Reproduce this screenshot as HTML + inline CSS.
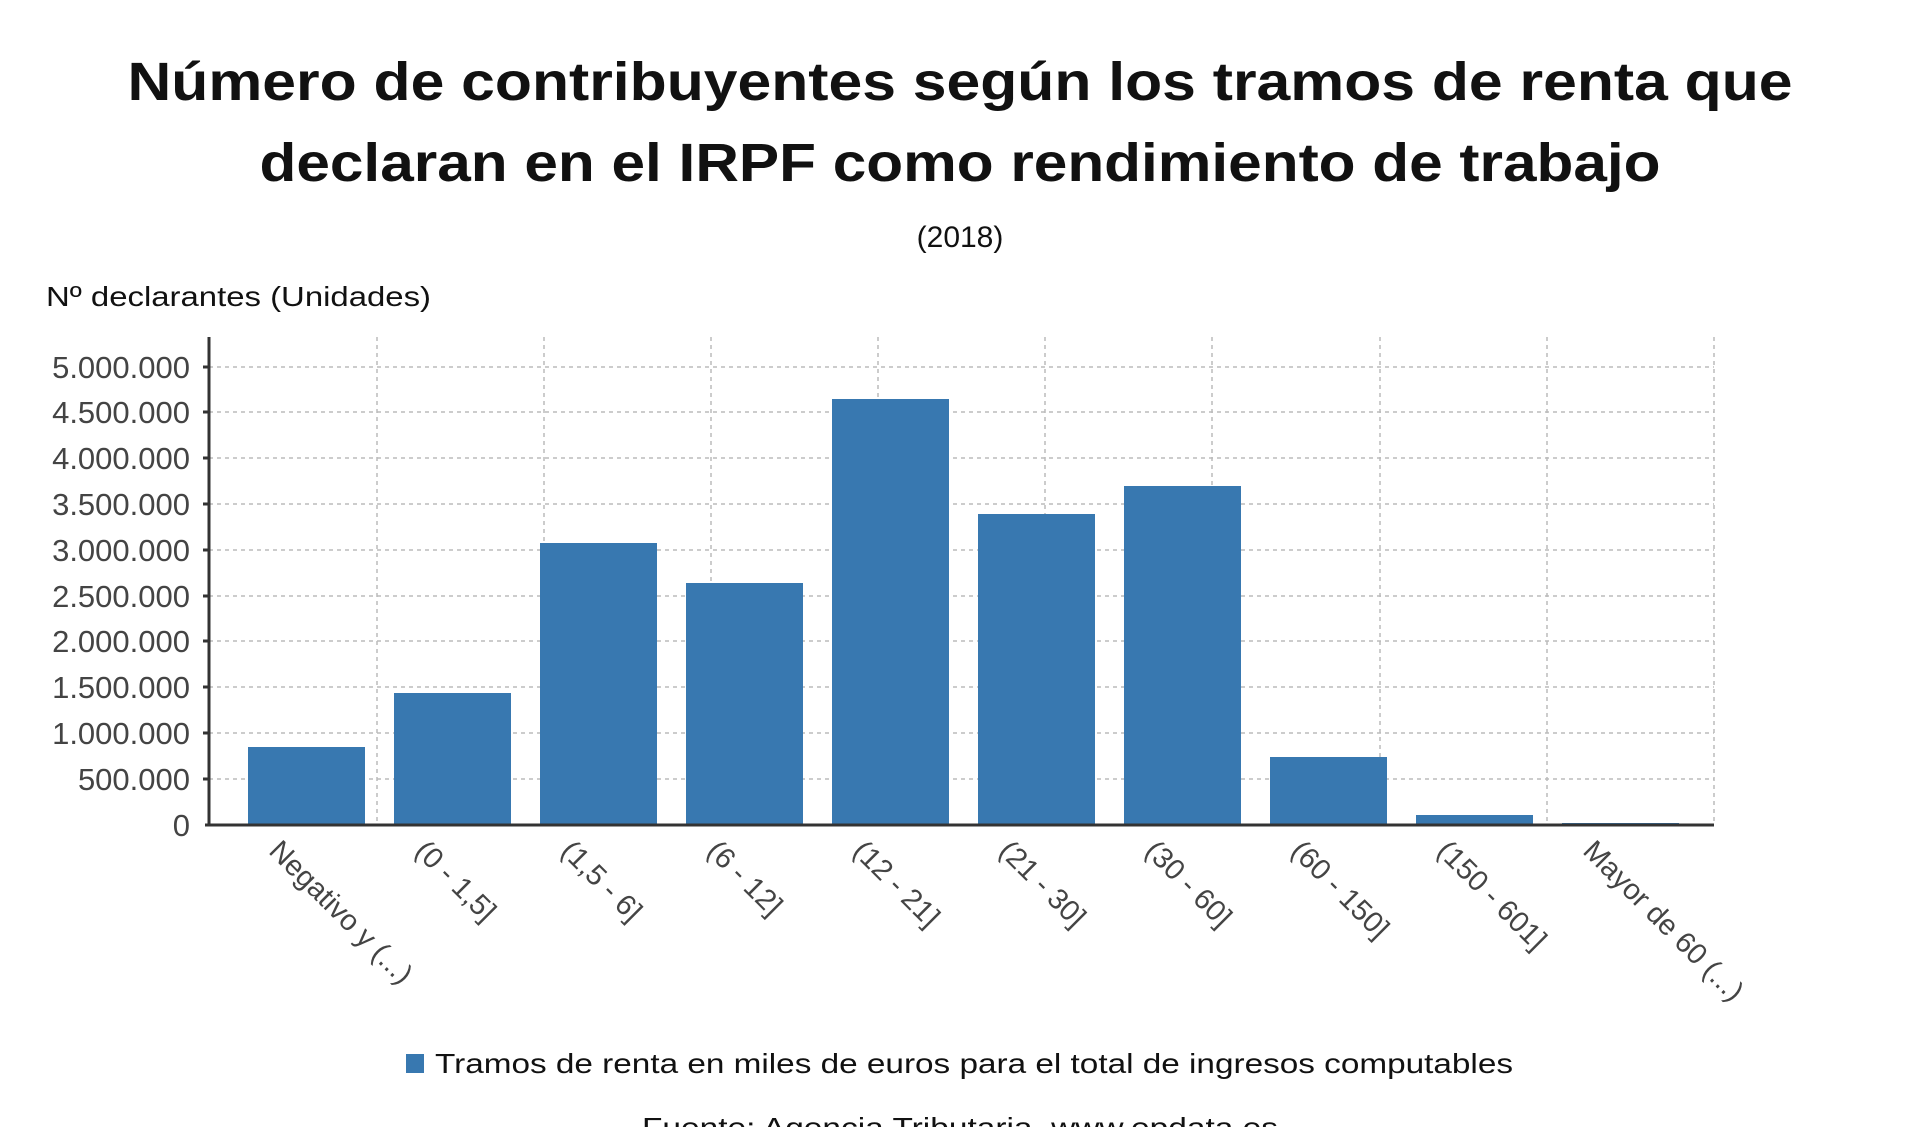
<!DOCTYPE html>
<html><head><meta charset="utf-8"><style>
html,body{margin:0;padding:0;background:#fff;width:1920px;height:1127px;overflow:hidden}
text{font-family:"Liberation Sans","DejaVu Sans",sans-serif}
</style></head><body>
<svg width="1920" height="1127" viewBox="0 0 1920 1127" xmlns="http://www.w3.org/2000/svg">
<text x="960" y="100" font-size="54" font-weight="bold" text-anchor="middle" fill="#111" textLength="1665" lengthAdjust="spacingAndGlyphs">Número de contribuyentes según los tramos de renta que</text>
<text x="960" y="181" font-size="54" font-weight="bold" text-anchor="middle" fill="#111" textLength="1401" lengthAdjust="spacingAndGlyphs">declaran en el IRPF como rendimiento de trabajo</text>
<text x="960" y="247" font-size="30" text-anchor="middle" fill="#111">(2018)</text>
<text x="46" y="306" font-size="28" fill="#111" textLength="385" lengthAdjust="spacingAndGlyphs">Nº declarantes (Unidades)</text>
<g stroke="#bbb" stroke-width="1.5" stroke-dasharray="4,4">
<line x1="209" y1="733" x2="1714" y2="733"/><line x1="209" y1="687" x2="1714" y2="687"/>
<line x1="209" y1="641" x2="1714" y2="641"/><line x1="209" y1="596" x2="1714" y2="596"/>
<line x1="209" y1="550" x2="1714" y2="550"/><line x1="209" y1="504" x2="1714" y2="504"/>
<line x1="209" y1="458" x2="1714" y2="458"/><line x1="209" y1="412" x2="1714" y2="412"/>
<line x1="209" y1="367" x2="1714" y2="367"/><line x1="209" y1="779" x2="1714" y2="779"/>
<line x1="377" y1="337" x2="377" y2="825"/><line x1="544" y1="337" x2="544" y2="825"/>
<line x1="711" y1="337" x2="711" y2="825"/><line x1="878" y1="337" x2="878" y2="825"/>
<line x1="1045" y1="337" x2="1045" y2="825"/><line x1="1212" y1="337" x2="1212" y2="825"/>
<line x1="1380" y1="337" x2="1380" y2="825"/><line x1="1547" y1="337" x2="1547" y2="825"/>
<line x1="1714" y1="337" x2="1714" y2="825"/>
</g>
<g fill="#3878b0">
<rect x="248" y="747" width="117" height="78"/>
<rect x="394" y="693" width="117" height="132"/>
<rect x="540" y="543" width="117" height="282"/>
<rect x="686" y="583" width="117" height="242"/>
<rect x="832" y="399" width="117" height="426"/>
<rect x="978" y="514" width="117" height="311"/>
<rect x="1124" y="486" width="117" height="339"/>
<rect x="1270" y="757" width="117" height="68"/>
<rect x="1416" y="815" width="117" height="10"/>
<rect x="1562" y="823" width="117" height="2"/>
</g>
<line x1="209" y1="337" x2="209" y2="826" stroke="#333" stroke-width="3"/>
<line x1="205" y1="825" x2="1714" y2="825" stroke="#333" stroke-width="3"/>
<g stroke="#333" stroke-width="3">
<line x1="203" y1="367" x2="209" y2="367"/><line x1="203" y1="412" x2="209" y2="412"/><line x1="203" y1="458" x2="209" y2="458"/><line x1="203" y1="504" x2="209" y2="504"/><line x1="203" y1="550" x2="209" y2="550"/><line x1="203" y1="596" x2="209" y2="596"/><line x1="203" y1="641" x2="209" y2="641"/><line x1="203" y1="687" x2="209" y2="687"/><line x1="203" y1="733" x2="209" y2="733"/><line x1="203" y1="779" x2="209" y2="779"/>
</g>
<g font-size="31" fill="#444" text-anchor="end">
<text x="190" y="378">5.000.000</text><text x="190" y="423">4.500.000</text><text x="190" y="469">4.000.000</text><text x="190" y="515">3.500.000</text><text x="190" y="561">3.000.000</text><text x="190" y="607">2.500.000</text><text x="190" y="652">2.000.000</text><text x="190" y="698">1.500.000</text><text x="190" y="744">1.000.000</text><text x="190" y="790">500.000</text><text x="190" y="836">0</text>
</g>
<g font-size="29" fill="#444">
<text transform="translate(284,836) rotate(45)" dy="0.8em">Negativo y (...)</text>
<text transform="translate(430,836) rotate(45)" dy="0.8em">(0 - 1,5]</text>
<text transform="translate(576,836) rotate(45)" dy="0.8em">(1,5 - 6]</text>
<text transform="translate(722,836) rotate(45)" dy="0.8em">(6 - 12]</text>
<text transform="translate(868,836) rotate(45)" dy="0.8em">(12 - 21]</text>
<text transform="translate(1014,836) rotate(45)" dy="0.8em">(21 - 30]</text>
<text transform="translate(1160,836) rotate(45)" dy="0.8em">(30 - 60]</text>
<text transform="translate(1306,836) rotate(45)" dy="0.8em">(60 - 150]</text>
<text transform="translate(1452,836) rotate(45)" dy="0.8em">(150 - 601]</text>
<text transform="translate(1598,836) rotate(45)" dy="0.8em">Mayor de 60 (...)</text>
</g>
<rect x="406" y="1054" width="18" height="19" fill="#3878b0"/>
<text x="435" y="1073" font-size="28" fill="#111" textLength="1078" lengthAdjust="spacingAndGlyphs">Tramos de renta en miles de euros para el total de ingresos computables</text>
<text x="960" y="1137" font-size="28" fill="#111" text-anchor="middle" textLength="636" lengthAdjust="spacingAndGlyphs">Fuente: Agencia Tributaria. www.epdata.es</text>
</svg>
</body></html>
